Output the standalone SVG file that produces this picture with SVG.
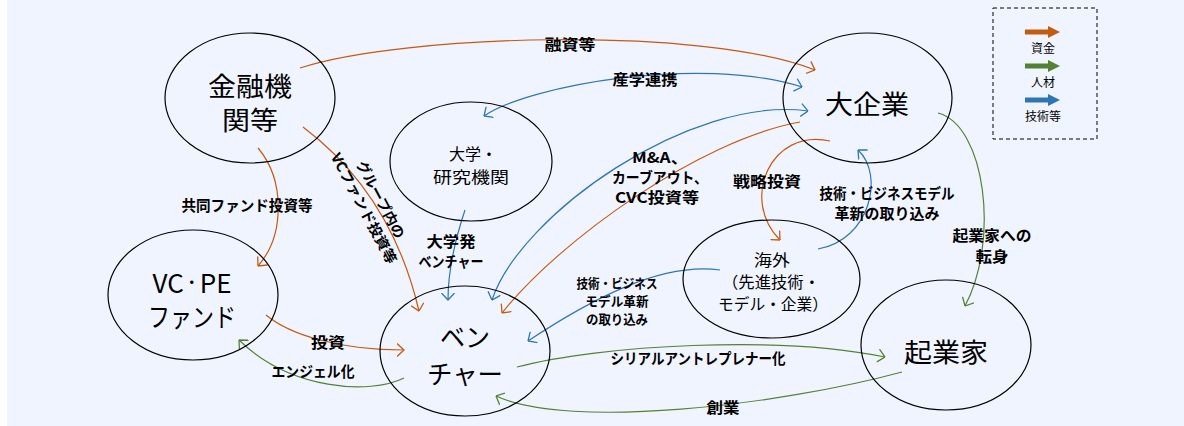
<svg xmlns="http://www.w3.org/2000/svg" width="1184" height="426" viewBox="0 0 1184 426">
<defs>
<style>
.bg{fill:#F0F4FE}
.node{fill:none;stroke:#000;stroke-width:1.2}
.nt{font-family:"Noto Sans CJK JP","Noto Sans",sans-serif;font-size:26px;fill:#000;text-anchor:middle;dominant-baseline:central}
.ns{font-family:"Noto Sans CJK JP","Noto Sans",sans-serif;font-size:16px;fill:#000;text-anchor:middle;dominant-baseline:central}
.lb{font-family:"Noto Sans CJK JP","Noto Sans",sans-serif;font-size:15px;font-weight:bold;fill:#000;text-anchor:middle;dominant-baseline:central}
.ls{font-family:"Noto Sans CJK JP","Noto Sans",sans-serif;font-size:13px;font-weight:bold;fill:#000;text-anchor:middle;dominant-baseline:central}
.lg{font-family:"Noto Sans CJK JP","Noto Sans",sans-serif;font-size:12px;fill:#000;text-anchor:middle;dominant-baseline:central}
.o{fill:none;stroke:#C55A11;stroke-width:1.2}
.g{fill:none;stroke:#548235;stroke-width:1.2}
.b{fill:none;stroke:#2E75B6;stroke-width:1.2}
</style>
<marker id="mo" viewBox="0 0 8 14" refX="7.5" refY="7" markerWidth="8" markerHeight="14" markerUnits="userSpaceOnUse" orient="auto-start-reverse"><path d="M0.5,0.5 L7.5,7 L0.5,13.5" fill="none" stroke="#C55A11" stroke-width="1.3"/></marker>
<marker id="mg" viewBox="0 0 8 14" refX="7.5" refY="7" markerWidth="8" markerHeight="14" markerUnits="userSpaceOnUse" orient="auto-start-reverse"><path d="M0.5,0.5 L7.5,7 L0.5,13.5" fill="none" stroke="#548235" stroke-width="1.3"/></marker>
<marker id="mb" viewBox="0 0 8 14" refX="7.5" refY="7" markerWidth="8" markerHeight="14" markerUnits="userSpaceOnUse" orient="auto-start-reverse"><path d="M0.5,0.5 L7.5,7 L0.5,13.5" fill="none" stroke="#2E75B6" stroke-width="1.3"/></marker>
</defs>
<rect class="bg" x="7" y="0" width="1177" height="426"/>

<g id="connectors">
<path class="o" d="M300,68 C400,35 700,25 815,70" marker-end="url(#mo)"/>
<path class="b" d="M484,116 C530,85 700,55 802,87" marker-start="url(#mb)" marker-end="url(#mb)"/>
<path class="b" d="M492,300 C520,215 690,95 808,111" marker-start="url(#mb)" marker-end="url(#mb)"/>
<path class="o" d="M800,122 C700,140 560,240 502,313" marker-end="url(#mo)"/>
<path class="o" d="M830,141 C770,128 740,200 780,240" marker-end="url(#mo)"/>
<path class="b" d="M818,249 C870,240 885,175 858,150" marker-end="url(#mb)"/>
<path class="b" d="M465,210 C455,240 448,270 448,300" marker-end="url(#mb)"/>
<path class="o" d="M303,127 C360,170 400,230 419,311" marker-end="url(#mo)"/>
<path class="o" d="M258,148 C285,180 285,235 258,266" marker-end="url(#mo)"/>
<path class="o" d="M266,315 C290,335 340,350 404,350" marker-end="url(#mo)"/>
<path class="g" d="M404,378 C370,395 290,390 239,340" marker-end="url(#mg)"/>
<path class="g" d="M517,367 C600,345 780,335 885,357" marker-end="url(#mg)"/>
<path class="g" d="M902,372 C780,405 570,430 496,396" marker-end="url(#mg)"/>
<path class="g" d="M938,113 C985,125 1000,240 965,306" marker-end="url(#mg)"/>
<path class="b" d="M720,270 C660,262 590,300 528,341" marker-end="url(#mb)"/>
</g>

<g id="labels">
<text class="lb" x="570" y="43" textLength="51" lengthAdjust="spacingAndGlyphs">融資等</text>
<text class="lb" x="645" y="78" textLength="65" lengthAdjust="spacingAndGlyphs">産学連携</text>
<text class="lb" x="247" y="204" textLength="131" lengthAdjust="spacingAndGlyphs">共同ファンド投資等</text>
<g transform="translate(373,203.5) rotate(62)">
<text class="lb" style="font-size:14px" x="0" y="-9.5" textLength="86" lengthAdjust="spacingAndGlyphs">グループ内の</text>
<text class="lb" style="font-size:14px" x="0" y="9.5" textLength="123" lengthAdjust="spacingAndGlyphs">VCファンド投資等</text>
</g>
<text class="lb" x="451" y="240" textLength="49" lengthAdjust="spacingAndGlyphs">大学発</text>
<text class="lb" x="451" y="260" textLength="65" lengthAdjust="spacingAndGlyphs">ベンチャー</text>
<text class="lb" x="660" y="156" textLength="56" lengthAdjust="spacingAndGlyphs">M&amp;A、</text>
<text class="lb" x="660" y="176" textLength="96" lengthAdjust="spacingAndGlyphs">カーブアウト、</text>
<text class="lb" x="657" y="196" textLength="84" lengthAdjust="spacingAndGlyphs">CVC投資等</text>
<text class="lb" x="767" y="180" textLength="68" lengthAdjust="spacingAndGlyphs">戦略投資</text>
<text class="lb" x="887" y="192" textLength="135" lengthAdjust="spacingAndGlyphs">技術・ビジネスモデル</text>
<text class="lb" x="887" y="212" textLength="105" lengthAdjust="spacingAndGlyphs">革新の取り込み</text>
<text class="ls" x="617" y="282" textLength="81" lengthAdjust="spacingAndGlyphs">技術・ビジネス</text>
<text class="ls" x="617" y="300" textLength="63" lengthAdjust="spacingAndGlyphs">モデル革新</text>
<text class="ls" x="617" y="318" textLength="62" lengthAdjust="spacingAndGlyphs">の取り込み</text>
<text class="lb" x="992" y="234" textLength="79" lengthAdjust="spacingAndGlyphs">起業家への</text>
<text class="lb" x="992" y="255" textLength="33" lengthAdjust="spacingAndGlyphs">転身</text>
<text class="lb" x="328" y="341" textLength="34" lengthAdjust="spacingAndGlyphs">投資</text>
<text class="lb" x="313" y="370" textLength="83" lengthAdjust="spacingAndGlyphs">エンジェル化</text>
<text class="lb" x="698" y="357" textLength="175" lengthAdjust="spacingAndGlyphs">シリアルアントレプレナー化</text>
<text class="lb" x="723" y="406" textLength="33" lengthAdjust="spacingAndGlyphs">創業</text>
</g>

<g id="n-kinyu">
<ellipse class="node" cx="250" cy="98" rx="85" ry="65"/>
<text class="nt" x="250" y="84" textLength="84" lengthAdjust="spacingAndGlyphs">金融機</text>
<text class="nt" x="250" y="118" textLength="56" lengthAdjust="spacingAndGlyphs">関等</text>
</g>
<g id="n-daigaku">
<ellipse class="node" cx="471" cy="161.5" rx="81" ry="59.5"/>
<text class="ns" x="473" y="153">大学・</text>
<text class="ns" x="471" y="176" textLength="76" lengthAdjust="spacingAndGlyphs">研究機関</text>
</g>
<g id="n-daikigyo">
<ellipse class="node" cx="867.5" cy="98" rx="84.5" ry="65"/>
<text class="nt" x="867" y="102" textLength="84" lengthAdjust="spacingAndGlyphs">大企業</text>
</g>
<g id="n-vcpe">
<ellipse class="node" cx="193" cy="295" rx="85" ry="65"/>
<text class="nt" x="192" y="281">VC<tspan style="font-size:16px">・</tspan>PE</text>
<text class="nt" x="192" y="315" textLength="88" lengthAdjust="spacingAndGlyphs">ファンド</text>
</g>
<g id="n-venture">
<ellipse class="node" cx="465" cy="351" rx="85" ry="65"/>
<text class="nt" x="465" y="335" textLength="50" lengthAdjust="spacingAndGlyphs">ベン</text>
<text class="nt" x="465" y="372" textLength="76" lengthAdjust="spacingAndGlyphs">チャー</text>
</g>
<g id="n-kaigai">
<ellipse class="node" cx="771.5" cy="279" rx="88.5" ry="59"/>
<text class="ns" x="772" y="259" textLength="36" lengthAdjust="spacingAndGlyphs">海外</text>
<text class="ns" x="771" y="281" textLength="98" lengthAdjust="spacingAndGlyphs">（先進技術・</text>
<text class="ns" x="773" y="303" textLength="110" lengthAdjust="spacingAndGlyphs">モデル・企業）</text>
</g>
<g id="n-kigyoka">
<ellipse class="node" cx="946" cy="345" rx="85" ry="65"/>
<text class="nt" x="946" y="350" textLength="84" lengthAdjust="spacingAndGlyphs">起業家</text>
</g>

<g id="legend">
<rect x="993" y="8" width="104" height="131" fill="none" stroke="#000" stroke-width="1" stroke-dasharray="4,3"/>
<polygon points="1025,29.5 1048,29.5 1048,26 1060,32 1048,38 1048,34.5 1025,34.5" fill="#C55A11"/>
<text class="lg" x="1043" y="47">資金</text>
<polygon points="1025,63.5 1048,63.5 1048,60 1060,66 1048,72 1048,68.5 1025,68.5" fill="#548235"/>
<text class="lg" x="1043" y="81">人材</text>
<polygon points="1025,97.5 1048,97.5 1048,94 1060,100 1048,106 1048,102.5 1025,102.5" fill="#2E75B6"/>
<text class="lg" x="1043" y="115">技術等</text>
</g>
</svg>
